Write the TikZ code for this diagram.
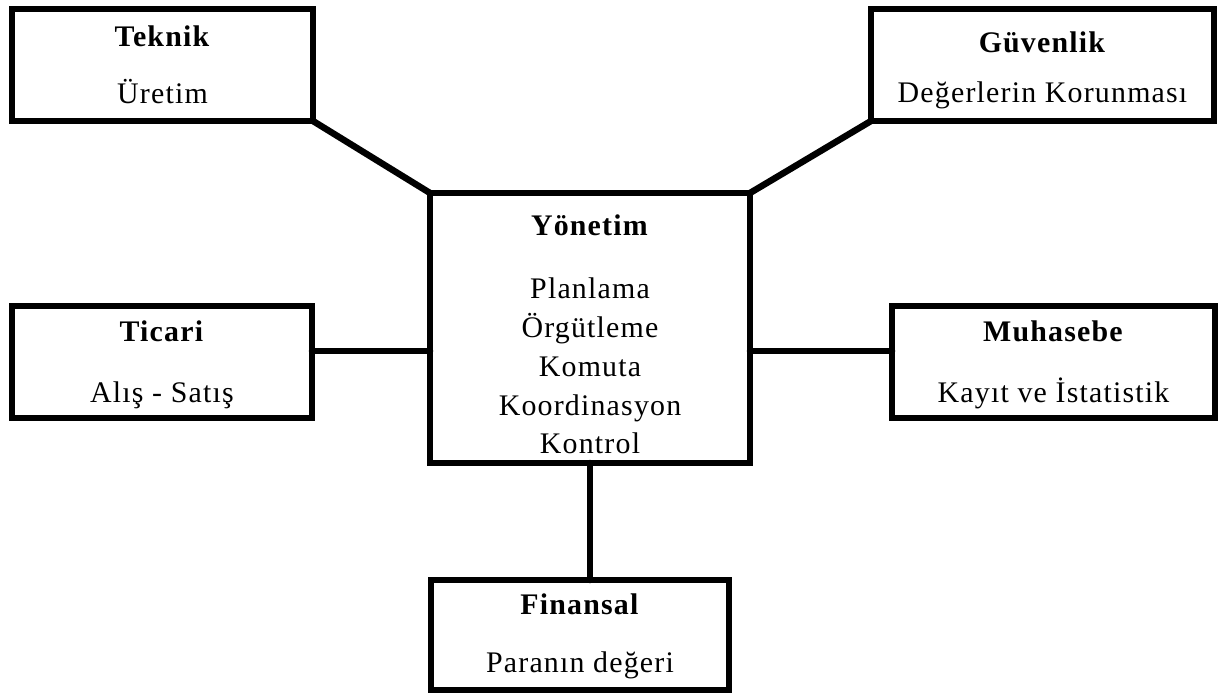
\documentclass[tikz,border=0pt]{standalone}
\usepackage{fontspec}
\setmainfont[LetterSpace=4]{Liberation Serif}
\usetikzlibrary{calc}

\tikzset{kutu/.style={draw,inner sep=0pt,outer sep=0pt,align=center,%
font=\fontsize{30}{39}\selectfont}}

\begin{document}
\begin{tikzpicture}[line width=6.5bp,line cap=round]
\useasboundingbox (0bp,0bp) rectangle (1221bp,-694bp);
%%
\node (yonetim) at (590bp,-328bp) [kutu,minimum width=320bp,minimum height=270bp]
  {\rule{0pt}{34bp}\textbf{Yönetim}\\[24bp]Planlama\\Örgütleme\\Komuta\\Koordinasyon\\Kontrol};
  \node (teknik) at (162.5bp,-65bp) [kutu,minimum width=301bp,minimum height=112bp]
  {\rule{0pt}{21bp}\textbf{Teknik}\\[18bp]Üretim};
  \node (guvenlik) at (1042.5bp,-65bp) [kutu,minimum width=343bp,minimum height=112bp]
  {\rule{0pt}{32bp}\textbf{Güvenlik}\\[11bp]Değerlerin Korunması};
  \node (ticari) at (162bp,-362bp) [kutu,minimum width=300bp,minimum height=112bp]
  {\rule{0pt}{27bp}\textbf{Ticari}\\[22bp]Alış - Satış};
  \node (muhasebe) at (1053.5bp,-362bp) [kutu,minimum width=323bp,minimum height=112bp]
  {\rule{0pt}{27bp}\textbf{Muhasebe}\\[22bp]Kayıt ve İstatistik};
  \node (finansal) at (580bp,-635bp) [kutu,minimum width=298bp,minimum height=110bp]
  {\rule{0pt}{24bp}\textbf{Finansal}\\[19bp]Paranın değeri};
  \coordinate (tic) at ([yshift=11bp]ticari.east);
  \coordinate (muh) at ([yshift=11bp]muhasebe.west);
  \draw (teknik.south east) -- (yonetim.north west);
  \draw (guvenlik.south west) -- (yonetim.north east);
  \draw (tic) -- (tic -| yonetim.west);
  \draw (muh) -- (muh -| yonetim.east);
  \draw (yonetim.south) -- (yonetim.south |- finansal.north);
%
\end{tikzpicture}
\end{document}
